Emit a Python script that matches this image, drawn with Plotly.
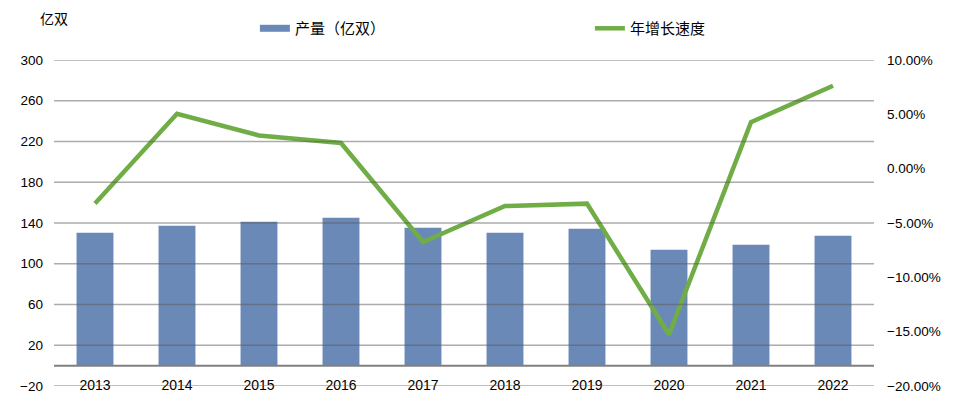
import plotly.graph_objects as go

years = ["2013", "2014", "2015", "2016", "2017", "2018", "2019", "2020", "2021", "2022"]
output = [130.4, 137.3, 141.2, 145.1, 135.3, 130.4, 134.3, 113.7, 118.6, 127.5]
growth = [-0.032, 0.0505, 0.0306, 0.0236, -0.0675, -0.0344, -0.0322, -0.1526, 0.0428, 0.0763]
left_ticks = [-20, 20, 60, 100, 140, 180, 220, 260, 300]
right_ticks = [-0.20, -0.15, -0.10, -0.05, 0.0, 0.05, 0.10]
baseline = 0

bar_color = "#6b89b7"
line_color = "#70ad47"
cjk = "Noto Sans CJK SC"
latin = "Liberation Sans, Arial"

fig = go.Figure()
fig.add_trace(go.Bar(x=years, y=output, name="产量（亿双）", marker_color=bar_color,
                     marker_line_width=0, width=0.45, showlegend=False, yaxis="y"))
fig.add_trace(go.Scatter(x=[None], y=[None], mode="lines", name="产量（亿双）",
                         line=dict(color=bar_color, width=7), showlegend=True))
fig.add_trace(go.Scatter(x=years, y=growth, mode="lines", name="年增长速度",
                         line=dict(color=line_color, width=4.5), yaxis="y2"))

shapes = []
for t in left_ticks:
    shapes.append(dict(type="line", xref="paper", yref="y", x0=0, x1=1, y0=t, y1=t,
                       line=dict(color="rgba(90,90,90,0.5)", width=1.5), layer="above"))
shapes.append(dict(type="line", xref="paper", yref="y", x0=0, x1=1, y0=baseline, y1=baseline,
                   line=dict(color="#808080", width=2), layer="above"))

fig.update_layout(
    width=953, height=414,
    margin=dict(l=54, r=79, t=59.5, b=28),
    plot_bgcolor="white", paper_bgcolor="white",
    bargap=0.55,
    shapes=shapes,
    xaxis=dict(type="category", showgrid=False, showline=False, ticks="",
               tickfont=dict(family=latin, size=14, color="#000"),
               ticklabelstandoff=-11),
    yaxis=dict(range=[-20, 300], tickvals=left_ticks, showgrid=False,
               zeroline=False,
               tickfont=dict(family=latin, size=13.5, color="#000"),
               ticklabelstandoff=10, showline=False),
    yaxis2=dict(range=[-0.20, 0.10], tickvals=right_ticks, tickformat=".2%",
                overlaying="y", side="right", showgrid=False, zeroline=False,
                tickfont=dict(family=latin, size=13.5, color="#000"),
                ticklabelstandoff=12),
    legend=dict(orientation="h", x=0.245, xanchor="left", y=1.0965, yanchor="middle",
                font=dict(family=cjk, size=15, color="#000"),
                entrywidth=290, entrywidthmode="pixels", traceorder="normal",
                bgcolor="rgba(0,0,0,0)"),
    annotations=[dict(text="亿双", xref="paper", yref="paper", x=-0.0195, y=1.130,
                      xanchor="left", yanchor="middle", showarrow=False,
                      font=dict(family=cjk, size=14, color="#000"))],
)

fig.write_html("out.html")
